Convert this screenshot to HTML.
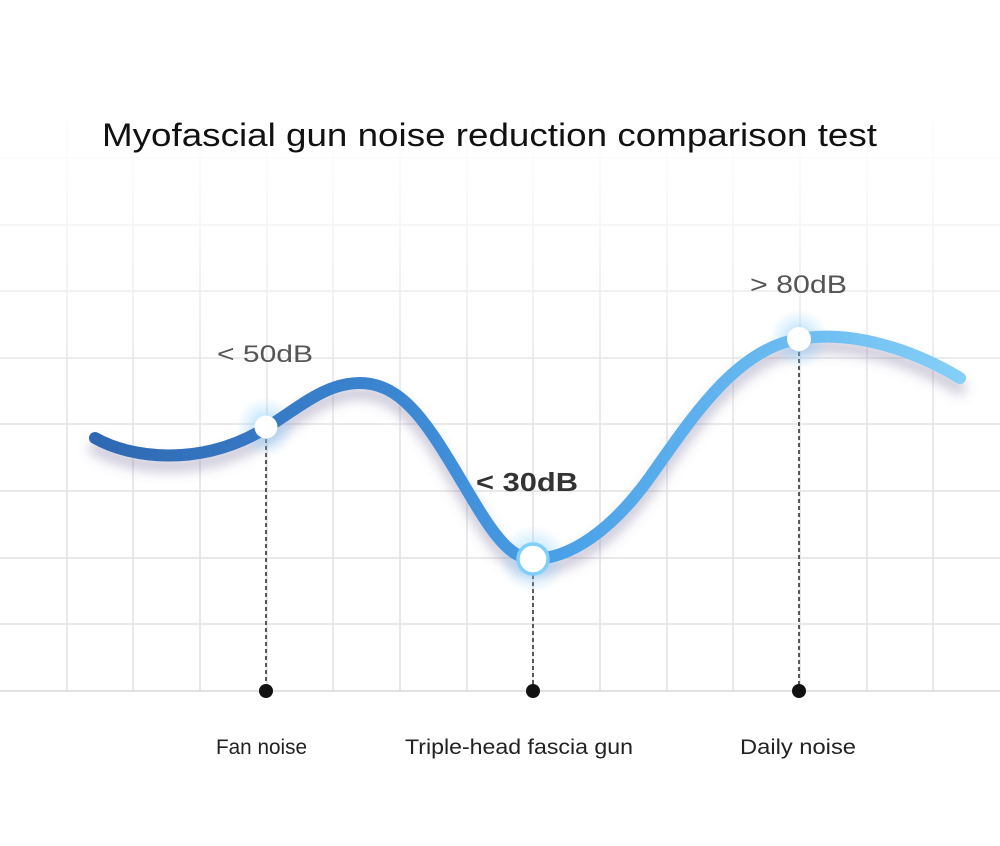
<!DOCTYPE html>
<html>
<head>
<meta charset="utf-8">
<style>
  html,body{margin:0;padding:0;background:#fff;}
  svg{display:block;}
  text{font-family:"Liberation Sans",Arial,sans-serif;}
</style>
</head>
<body>
<svg width="1000" height="846" viewBox="0 0 1000 846" xmlns="http://www.w3.org/2000/svg">
  <defs>
    <linearGradient id="fadeV" x1="0" y1="0" x2="0" y2="846" gradientUnits="userSpaceOnUse">
      <stop offset="0.1" stop-color="#fff" stop-opacity="0"/>
      <stop offset="0.19" stop-color="#fff" stop-opacity="0.15"/>
      <stop offset="0.3" stop-color="#fff" stop-opacity="0.5"/>
      <stop offset="0.42" stop-color="#fff" stop-opacity="0.85"/>
      <stop offset="0.55" stop-color="#fff" stop-opacity="1"/>
    </linearGradient>
    <mask id="gridMask" maskUnits="userSpaceOnUse" x="0" y="0" width="1000" height="846">
      <rect x="0" y="0" width="1000" height="846" fill="url(#fadeV)"/>
    </mask>
    <linearGradient id="lineGrad" x1="95" y1="0" x2="960" y2="0" gradientUnits="userSpaceOnUse">
      <stop offset="0" stop-color="#2f68b2"/>
      <stop offset="0.35" stop-color="#3b86d2"/>
      <stop offset="0.55" stop-color="#4ba2e8"/>
      <stop offset="1" stop-color="#84cff7"/>
    </linearGradient>
    <filter id="shadow" x="-10%" y="-30%" width="120%" height="160%">
      <feGaussianBlur stdDeviation="6"/>
    </filter>
    <radialGradient id="glow">
      <stop offset="0" stop-color="#7cc6ff" stop-opacity="0.75"/>
      <stop offset="0.5" stop-color="#8ccfff" stop-opacity="0.35"/>
      <stop offset="1" stop-color="#9ad6ff" stop-opacity="0"/>
    </radialGradient>
  </defs>

  <rect width="1000" height="846" fill="#fff"/>

  <!-- grid -->
  <g mask="url(#gridMask)" stroke="#e2e2e2" stroke-width="1.5">
    <line x1="0" y1="92" x2="1000" y2="92"/>
    <line x1="0" y1="158" x2="1000" y2="158"/>
    <line x1="0" y1="225" x2="1000" y2="225"/>
    <line x1="0" y1="291" x2="1000" y2="291"/>
    <line x1="0" y1="358" x2="1000" y2="358"/>
    <line x1="0" y1="424" x2="1000" y2="424"/>
    <line x1="0" y1="491" x2="1000" y2="491"/>
    <line x1="0" y1="558" x2="1000" y2="558"/>
    <line x1="0" y1="624" x2="1000" y2="624"/>
    <line x1="0" y1="691" x2="1000" y2="691" stroke="#d8d8d8"/>
    <line x1="67" y1="92" x2="67" y2="691"/>
    <line x1="133" y1="92" x2="133" y2="691"/>
    <line x1="200" y1="92" x2="200" y2="691"/>
    <line x1="267" y1="92" x2="267" y2="691"/>
    <line x1="333" y1="92" x2="333" y2="691"/>
    <line x1="400" y1="92" x2="400" y2="691"/>
    <line x1="467" y1="92" x2="467" y2="691"/>
    <line x1="533" y1="92" x2="533" y2="691"/>
    <line x1="600" y1="92" x2="600" y2="691"/>
    <line x1="667" y1="92" x2="667" y2="691"/>
    <line x1="733" y1="92" x2="733" y2="691"/>
    <line x1="800" y1="92" x2="800" y2="691"/>
    <line x1="867" y1="92" x2="867" y2="691"/>
    <line x1="933" y1="92" x2="933" y2="691"/>
  </g>

  <!-- title -->
  <text x="102" y="146" font-size="32" fill="#111" textLength="775" lengthAdjust="spacingAndGlyphs">Myofascial gun noise reduction comparison test</text>

  <!-- dashed drops -->
  <g stroke="#333" stroke-width="1.6" stroke-dasharray="4 3">
    <line x1="266" y1="432" x2="266" y2="691"/>
    <line x1="533" y1="568" x2="533" y2="691"/>
    <line x1="799" y1="345" x2="799" y2="691"/>
  </g>
  <g fill="#111">
    <circle cx="266" cy="691" r="7"/>
    <circle cx="533" cy="691" r="7"/>
    <circle cx="799" cy="691" r="7"/>
  </g>

  <!-- curve shadow -->
  <path d="M95,438 C130,458 200,468 266,428 C300,407 325,383 360,383 C400,383 425,420 455,470 C485,520 505,559 533,559 C570,559 612,530 650,477 C690,421 735,349 799,339 C850,330 910,348 960,378"
        fill="none" stroke="#6a6490" stroke-opacity="0.38" stroke-width="12" stroke-linecap="round"
        transform="translate(0,10)" filter="url(#shadow)"/>

  <!-- glows -->
  <circle cx="266" cy="427" r="30" fill="url(#glow)"/>
  <circle cx="533" cy="559" r="34" fill="url(#glow)"/>
  <circle cx="799" cy="339" r="30" fill="url(#glow)"/>

  <!-- curve -->
  <path d="M95,438 C130,458 200,468 266,428 C300,407 325,383 360,383 C400,383 425,420 455,470 C485,520 505,559 533,559 C570,559 612,530 650,477 C690,421 735,349 799,339 C850,330 910,348 960,378"
        fill="none" stroke="url(#lineGrad)" stroke-width="12" stroke-linecap="round"/>

  <!-- points -->
  <circle cx="266" cy="427" r="11.5" fill="#fff"/>
  <circle cx="533" cy="559" r="15" fill="#fff" stroke="#7fd0fb" stroke-width="3.5"/>
  <circle cx="799" cy="339" r="12" fill="#fff"/>

  <!-- value labels -->
  <text x="217" y="362" font-size="24" fill="#555" textLength="96" lengthAdjust="spacingAndGlyphs">&lt; 50dB</text>
  <text x="750" y="293" font-size="25" fill="#555" textLength="97" lengthAdjust="spacingAndGlyphs">&gt; 80dB</text>
  <text x="476" y="491" font-size="26" font-weight="bold" fill="#333" textLength="102" lengthAdjust="spacingAndGlyphs">&lt; 30dB</text>

  <!-- category labels -->
  <text x="216" y="754" font-size="21" fill="#222" textLength="91" lengthAdjust="spacingAndGlyphs">Fan noise</text>
  <text x="405" y="754" font-size="21" fill="#222" textLength="228" lengthAdjust="spacingAndGlyphs">Triple-head fascia gun</text>
  <text x="740" y="754" font-size="21" fill="#222" textLength="116" lengthAdjust="spacingAndGlyphs">Daily noise</text>
</svg>
</body>
</html>
